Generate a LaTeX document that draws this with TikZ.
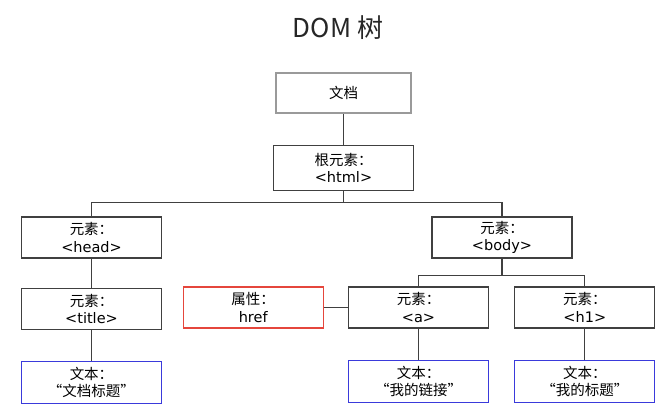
\documentclass[tikz,border=0pt]{standalone}
\usepackage{fontspec}
\setmainfont{DejaVu Sans}
\newfontfamily\cjk{Noto Sans CJK SC}
\usetikzlibrary{positioning}
\definecolor{lineg}{HTML}{404040}
\definecolor{docgray}{HTML}{9A9A9A}
\definecolor{textblue}{HTML}{3A3ADB}
\definecolor{attrred}{HTML}{E5463C}

\begin{document}
\begin{tikzpicture}[
  x=1pt, y=1pt,
  node distance=28pt and 24pt,
  box/.style={rectangle, draw=lineg, line width=1.3pt, minimum width=140pt, minimum height=41pt, inner sep=0pt, align=center, font=\fontsize{14.5}{17.5}\selectfont},
  docbox/.style={box, draw=docgray, line width=2pt, minimum width=135pt, minimum height=40pt},
  attrbox/.style={box, draw=attrred},
  textbox/.style={box, draw=textblue, minimum height=42pt},
  link/.style={draw=lineg, line width=1.3pt}
]
\useasboundingbox (0,0) rectangle (657,-407);
\node[font=\cjk\fontsize{26}{30}\selectfont, text=black!85] (title) at (338,-28) {DOM 树};
\node[docbox] (doc) at (343.5,-93) {\cjk 文档};
\node[box, minimum height=45pt, below=31pt of doc] (html) {{\cjk 根元素：}\\<html>};
\node[box] (head) at (91.5,-237.5) {{\cjk 元素：}\\<head>};
\node[box] (body) at (502,-237.5) {{\cjk 元素：}\\<body>};
\node[box, below=29pt of head] (titleel) {{\cjk 元素：}\\<title>};
\node[textbox, below=31pt of titleel] (titletext) {{\cjk 文本：}\\{\cjk “文档标题”}};
\node[box] (anchor) at (418.5,-307.5) {{\cjk 元素：}\\<a>};
\node[attrbox, left=of anchor] (href) {{\cjk 属性：}\\href};
\node[box, right=25pt of anchor] (hone) {{\cjk 元素：}\\<h1>};
\node[textbox, below=31pt of anchor] (linktext) {{\cjk 文本：}\\{\cjk “我的链接”}};
\node[textbox, below=31pt of hone] (honetext) {{\cjk 文本：}\\{\cjk “我的标题”}};
\coordinate[below=11pt of html.south] (fork1);
\coordinate[below=17pt of body.south] (fork2);
\draw[link] (doc) -- (html);
\draw[link] (html.south) -- (fork1);
\draw[link] (fork1) -| (head.north);
\draw[link] (fork1) -| (body.north);
\draw[link] (head) -- (titleel);
\draw[link] (titleel) -- (titletext);
\draw[link] (body.south) -- (fork2);
\draw[link] (fork2) -| (anchor.north);
\draw[link] (fork2) -| (hone.north);
\draw[link] (href) -- (anchor);
\draw[link] (anchor) -- (linktext);
\draw[link] (hone) -- (honetext);
\end{tikzpicture}
\end{document}
